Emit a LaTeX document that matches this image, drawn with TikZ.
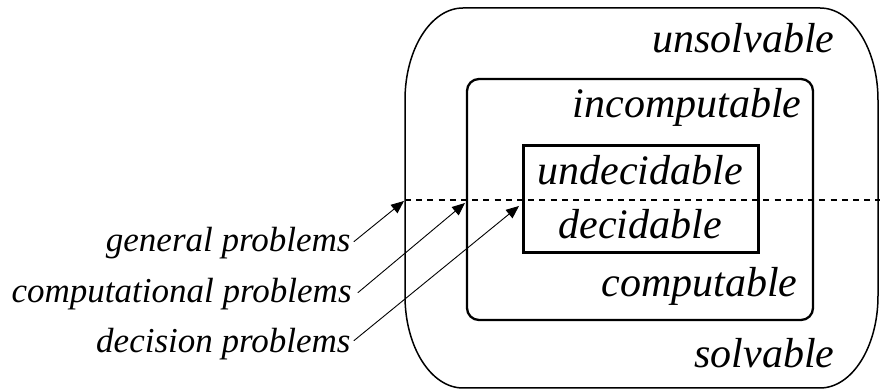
\documentclass[tikz,border=0pt]{standalone}
\usepackage{fontspec}
\setmainfont{Liberation Serif}
\usetikzlibrary{arrows}

\begin{document}
\begin{tikzpicture}[line cap=round,line join=round,>=triangle 45,x=0.5pt,y=0.5pt,
	etiq/.style={font=\fontsize{21}{25}\selectfont\itshape,inner sep=0pt,anchor=base east},
	prob/.style={etiq,font=\fontsize{17.5}{21}\selectfont\itshape},
	fleche/.style={->,line width=0.45pt}]
	\useasboundingbox (0,0) rectangle (880,390);
	% Cadre exterieur
	\draw[line width=0.75pt] (405,290) arc[start angle=180,end angle=90,x radius=58,y radius=92]
		-- (820,382) arc[start angle=90,end angle=0,x radius=58,y radius=92]
		-- (878,94) arc[start angle=0,end angle=-90,x radius=58,y radius=92]
		-- (463,2) arc[start angle=270,end angle=180,x radius=58,y radius=92] -- cycle;
	% Cadre du milieu
	\draw[line width=1.15pt,rounded corners=6pt] (467,70) rectangle (813,311);
	% Cadre interieur
	\draw[line width=1.5pt,line join=miter] (523,137) rectangle (758,244);
	% Separation
	\draw[line width=1pt,line cap=butt,dash pattern=on 3pt off 2.6pt] (405,190) -- (880,190);
	% Textes
	\node[etiq] (unsolv) at (835,337) {unsolvable};
	\node[etiq] (incomp) at (802,272) {incomputable};
	\node[etiq,anchor=base] (undec) at (640,205) {undecidable};
	\node[etiq,anchor=base] (dec) at (640,151) {decidable};
	\node[etiq] (comp) at (798,93) {computable};
	\node[etiq] (solv) at (835,22) {solvable};
	% Problemes
	\node[prob] (gen) at (351,138) {general problems};
	\node[prob] (calc) at (352,87) {computational problems};
	\node[prob] (decis) at (351,37) {decision problems};
	\coordinate (bordA) at (404,189);
	\coordinate (bordB) at (465,187);
	\coordinate (bordC) at (519,184);
	\draw[fleche] ([xshift=1.5pt,yshift=1pt]gen.east) -- (bordA);
	\draw[fleche] ([xshift=3pt,yshift=1pt]calc.east) -- (bordB);
	\draw[fleche] ([xshift=1.5pt,yshift=2pt]decis.east) -- (bordC);
\end{tikzpicture}
\end{document}
